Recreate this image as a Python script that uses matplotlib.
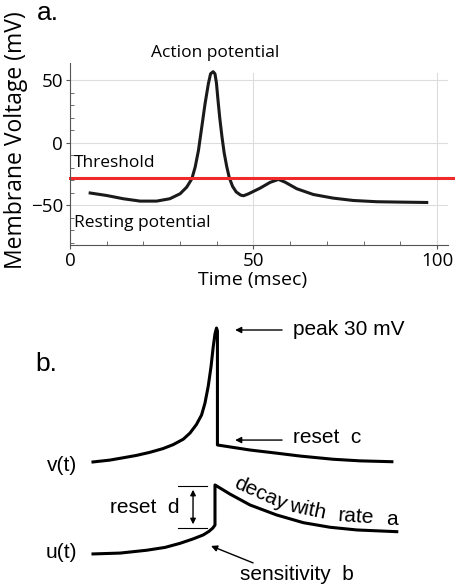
import matplotlib.pyplot as plt
from matplotlib.ticker import MultipleLocator

# panel a: action potential trace (msec, mV)
time_ms = [5.5, 10.0, 14.5, 19.1, 23.6, 27.2, 30.0, 31.8, 33.2, 34.1, 35.0,
           35.9, 36.8, 37.7, 38.3, 39.0, 39.5, 39.9, 40.3, 40.8, 41.4, 42.0,
           42.7, 43.4, 44.3, 45.3, 46.5, 47.3, 48.6, 51.8, 54.5, 56.8, 58.6,
           61.8, 66.3, 71.7, 77.2, 83.6, 89.9, 97.2]
voltage_mv = [-40.3, -42.3, -44.9, -46.8, -46.8, -44.9, -40.9, -35.6, -28.9,
              -19.6, -6.2, 12.5, 31.3, 47.3, 55.3, 57.0, 55.3, 48.0, 35.0,
              20.0, 5.0, -8.0, -19.0, -28.0, -35.0, -39.5, -42.0, -42.5,
              -41.0, -36.4, -31.8, -29.4, -31.6, -36.9, -41.5, -44.4, -46.3,
              -47.3, -47.6, -47.9]
threshold_mv = -28

# panel b: schematic v(t) and u(t) (arbitrary time, display units)
v_t = [0, 5.5, 9.9, 14.2, 18.6, 23.0, 26.3, 29.6, 31.8, 33.9, 35.6, 36.7,
       37.8, 38.7, 39.4, 40.0, 40.5, 40.8, 40.8, 51.5, 59.7, 67.9, 78.7,
       87.5, 98.0]
v_val = [-78.9, -77.4, -75.5, -73.6, -71.1, -68.0, -64.8, -60.4, -55.4,
         -48.5, -40.7, -31.2, -17.1, -1.4, 14.3, 25.3, 30.0, 27.6, -65.1,
         -69.2, -71.6, -74.1, -76.7, -78.0, -78.7]
u_t = [0, 8.9, 17.6, 23.6, 28.5, 32.8, 36.1, 38.0, 39.3, 40.0, 40.0, 44.9,
       51.5, 60.2, 69.0, 77.7, 86.5, 99.6]
u_val = [-153.7, -153.0, -150.7, -148.4, -145.1, -141.5, -138.3, -135.4,
         -132.6, -130.2, -97.6, -105.0, -113.9, -122.0, -128.3, -132.0,
         -134.2, -135.6]

top_font = 'Open Sans'
bot_font = 'Liberation Sans'

fig = plt.figure(figsize=(4.56, 5.88), dpi=100)

# ---- a. ----
ax = fig.add_axes([70/456, 1-245/588, 103*3.67/456, 138*1.247/588])
ax.set_xlim(0, 103)
ax.set_ylim(-82, 56)
ax.grid(True, color='#dddddd', lw=0.8)
ax.set_xticks([0, 50, 100])
ax.set_yticks([-50, 0, 50])
ax.xaxis.set_minor_locator(MultipleLocator(10))
ax.yaxis.set_minor_locator(MultipleLocator(10))
ax.tick_params(which='major', length=3, color='#555555', labelsize=13.5, pad=2)
ax.tick_params(which='minor', direction='in', length=3, color='#555555')
for lab in ax.get_xticklabels() + ax.get_yticklabels():
    lab.set_family(top_font)
for s in ['top', 'right']:
    ax.spines[s].set_visible(False)
for s in ['left', 'bottom']:
    ax.spines[s].set_color('#555555')
ax.spines['left'].set_bounds(-82, 64)

ax.plot(time_ms, voltage_mv, color='#1a1a1a', lw=2.2, solid_joinstyle='round',
        clip_on=False)
ax.plot([0, 104.3], [threshold_mv, threshold_mv], color='#ee2a2a', lw=2.2,
        clip_on=False)
ax.text(39.5, 72, 'Action potential', family=top_font, fontsize=12.5,
        ha='center', va='center')
ax.text(1.1, -16, 'Threshold', family=top_font, fontsize=12.5, va='center')
ax.text(1.1, -64.6, 'Resting potential', family=top_font, fontsize=12.5,
        va='center')
ax.set_xlabel('Time (msec)', family=top_font, fontsize=14)
ax.set_ylabel('Membrane Voltage (mV)', family=top_font, fontsize=16.5)
ax.xaxis.set_label_coords(0.484, -0.151)
ax.yaxis.set_label_coords(-0.111, 0.61)
fig.text(37/456, 1-13/588, 'a.', family=bot_font, fontsize=19, va='center')

# ---- b. ----
bx = fig.add_axes([0, 0, 1, 288/588])
bx.set_xlim(-30.49, 119.02)
bx.set_ylim(-181.4, 52.8)
bx.axis('off')
bx.plot(v_t, v_val, color='k', lw=2.2, solid_joinstyle='round')
bx.plot(u_t, u_val, color='k', lw=2.2, solid_joinstyle='round')

fs = 15
arr = dict(arrowstyle='-|>', lw=1, color='k', mutation_scale=9,
           shrinkA=0, shrinkB=0)
bx.annotate('', xy=(46.6, 28.4), xytext=(62.0, 28.4), arrowprops=arr)
bx.text(65.6, 29.2, 'peak 30 mV', family=bot_font, fontsize=fs, va='center')
bx.annotate('', xy=(46.6, -61.1), xytext=(62.0, -61.1), arrowprops=arr)
bx.text(65.6, -59.4, 'reset  c', family=bot_font, fontsize=fs, va='center')
bx.annotate('', xy=(38.7, -147.2), xytext=(52.5, -161.0), arrowprops=arr)
bx.text(48.2, -170.8, 'sensitivity  b', family=bot_font, fontsize=fs,
        va='center')
bx.text(-5.2, -81.4, 'v(t)', family=bot_font, fontsize=fs, va='center',
        ha='right')
bx.text(-5.2, -152.9, 'u(t)', family=bot_font, fontsize=fs, va='center',
        ha='right')
bx.text(28.5, -116.3, 'reset  d', family=bot_font, fontsize=fs, va='center',
        ha='right')
bx.plot([27.9, 37.4], [-98.5, -98.5], color='k', lw=0.8)
bx.plot([27.9, 37.4], [-132.6, -132.6], color='k', lw=0.8)
bx.annotate('', xy=(32.8, -101.5), xytext=(32.8, -129.6),
            arrowprops=dict(arrowstyle='<|-|>', lw=1, color='k',
                            mutation_scale=8, shrinkA=0, shrinkB=0))
for word, x, y, rot in [('decay', 54.8, -105.0, -24), ('with', 70.3, -117.2, -12),
                        ('rate', 86.1, -123.7, -4), ('a', 98.0, -126.1, 0)]:
    bx.text(x, y, word, family=bot_font, fontsize=fs, rotation=rot,
            ha='center', va='center', rotation_mode='anchor')
fig.text(35/456, 1-364/588, 'b.', family=bot_font, fontsize=19, va='center')

fig.savefig('out.png', dpi=100)
